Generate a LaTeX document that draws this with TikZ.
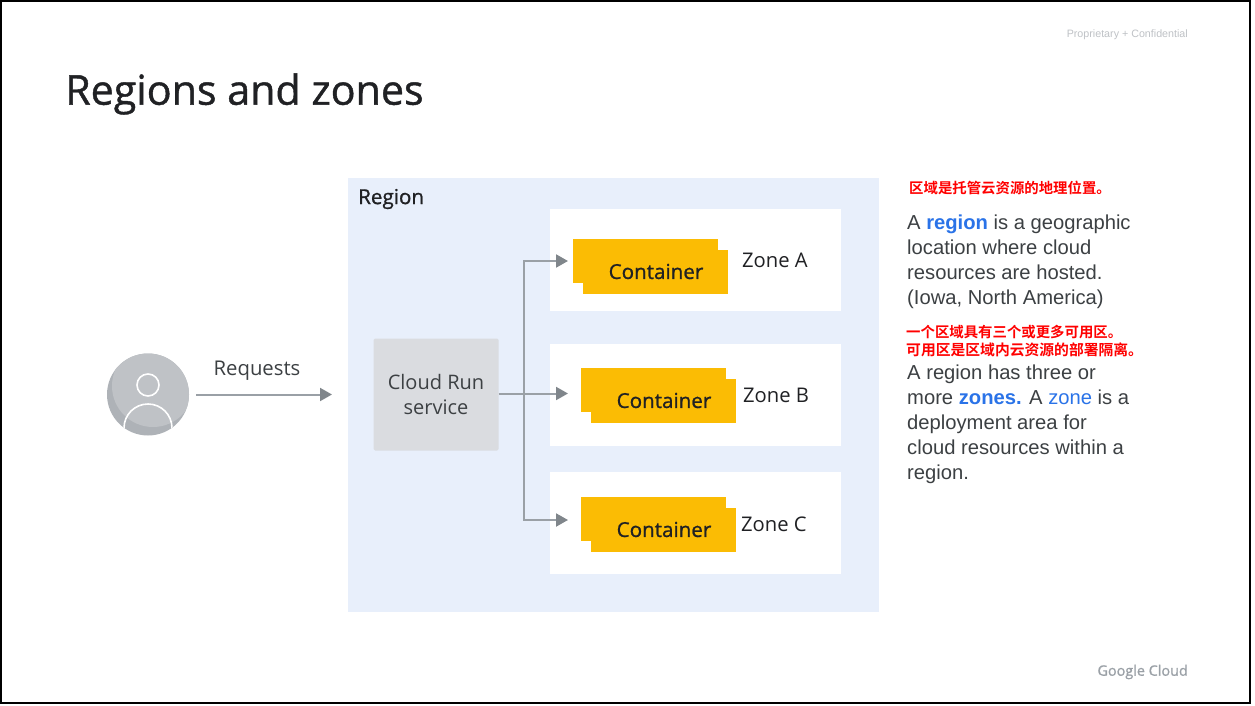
\documentclass[tikz,border=0pt]{standalone}
\usepackage{fontspec}
\setmainfont{Liberation Sans}
\newfontfamily\titlefont{Open Sans}
\newfontfamily\titlebold{Open Sans}[FakeBold=1]
\newfontfamily\cjk{Noto Sans CJK SC}[BoldFont={Noto Sans CJK SC Bold}]
\definecolor{regionbg}{HTML}{E8EFFB}
\definecolor{svcbg}{HTML}{DADCE0}
\definecolor{amber}{HTML}{FBBC04}
\definecolor{ink}{HTML}{202124}
\definecolor{body}{HTML}{3C4043}
\definecolor{blueacc}{HTML}{2A73E8}
\definecolor{wire}{HTML}{9AA0A6}
\definecolor{tip}{HTML}{80868B}
\definecolor{avatar}{HTML}{BFC2C6}
\definecolor{avatardark}{HTML}{AEB2B7}
\usetikzlibrary{arrows.meta,calc}
\tikzset{
  x=1pt,y=-1pt,
  zonebox/.style={fill=white,draw=none,minimum width=291pt,minimum height=102pt,inner sep=0pt,anchor=north west},
  lab/.style={text=ink,inner sep=0pt,font=\titlefont\fontsize{20.2}{24}\selectfont},
  ctext/.style={text=ink,inner sep=0pt,font=\titlebold\fontsize{20.6}{24}\selectfont},
  conn/.style={draw=wire,line width=2pt},
  arr/.style={conn,-{Triangle[length=12pt,width=13pt,fill=tip,color=tip]}},
  bodytext/.style={text=body,inner sep=0pt,anchor=north west,align=left,font=\fontsize{20.2}{25}\selectfont},
  redtext/.style={text=red,inner sep=0pt,anchor=west,font=\cjk\bfseries\fontsize{14.4}{18}\selectfont},
}
\newcommand{\containerat}[3]{%
  \fill[amber] (#2,#3) rectangle ++(145,44);
  \fill[amber] ($(#2,#3)+(10,11)$) rectangle ++(145,44);
  \node[ctext,anchor=center] (#1) at ($(#2,#3)+(83,32.5)$) {Container};
}
\begin{document}
\begin{tikzpicture}
\useasboundingbox (0,0) rectangle (1255,706);
\fill[white] (0,0) rectangle (1255,706);
\draw[black,line width=2pt] (1,1) rectangle (1250,703);

\node[anchor=west,inner sep=0pt,text=ink,font=\titlebold\fontsize{41.2}{48}\selectfont] (title) at (65,94) {Regions and zones};
\node[anchor=east,inner sep=0pt,text=avatar,font=\fontsize{10.7}{12}\selectfont] (prop) at (1188,35) {Proprietary + Confidential};
\node[anchor=east,inner sep=0pt,text=wire,font=\titlebold\fontsize{14.4}{18}\selectfont] (gc) at (1188,672) {Google Cloud};

% region
\fill[regionbg] (348,178) rectangle (879,612);
\node[anchor=west,inner sep=0pt,text=ink,font=\titlebold\fontsize{20.6}{24}\selectfont] (regionlab) at (358,199) {Region};

% zones
\node[zonebox] (zoneA) at (550,209) {};
\node[zonebox] (zoneB) at (550,344) {};
\node[zonebox] (zoneC) at (550,472) {};
\containerat{contA}{573}{239}
\containerat{contB}{581}{368}
\containerat{contC}{581}{497}
\node[lab,anchor=west] (zA) at (742,260) {Zone A};
\node[lab,anchor=west] (zB) at (743,395) {Zone B};
\node[lab,anchor=west] (zC) at (741,524) {Zone C};

% service
\node[fill=svcbg,rounded corners=1.5pt,minimum width=125pt,minimum height=112pt,inner sep=0pt,align=center,text=body,font=\titlefont\fontsize{20}{25}\selectfont] (svc) at (436,394.5) {Cloud Run\\service};

% user
\node[circle,fill=avatardark,minimum size=82pt,inner sep=0pt] (user) at (148,394.5) {};
\begin{scope}
\clip (148,394.5) circle (41);
\fill[avatar] (153,386) circle (41);
\draw[white,line width=1.6pt] (148,428) circle (24);
\end{scope}
\draw[white,line width=1.6pt] (148,385) circle (11);

% requests
\coordinate (reqEnd) at (332,394.5);
\draw[arr] (196,394.5) -- (reqEnd);
\node[anchor=center,inner sep=0pt,text=body,font=\titlefont\fontsize{20.3}{24}\selectfont] (req) at (257,371) {Requests};

% connectors
\coordinate (tipA) at (568,261);
\coordinate (tipB) at (568,393.5);
\coordinate (tipC) at (568,520);
\coordinate (junc) at (524,393.5);
\draw[arr] (svc.east |- junc) -- (tipB);
\draw[arr] (junc) -- (junc |- tipA) -- (tipA);
\draw[arr] (junc) -- (junc |- tipC) -- (tipC);

% side text
\node[redtext] (r1) at (909,188) {区域是托管云资源的地理位置。};
\node[bodytext] (t1) at (907,215) {A \textcolor{blueacc}{\textbf{region}} is a geographic\\location where cloud\\resources are hosted.\\(Iowa, North America)};
\node[redtext] (r2a) at (906,332) {一个区域具有三个或更多可用区。};
\node[redtext,font=\cjk\bfseries\fontsize{14.8}{18}\selectfont] (r2b) at (906,350) {可用区是区域内云资源的部署隔离。};
\node[bodytext] (t2) at (907,365) {A region has three or\\more \textcolor{blueacc}{\textbf{zones.}} A \textcolor{blueacc}{zone} is a\\deployment area for\\cloud resources within a\\region.};
\end{tikzpicture}
\end{document}
